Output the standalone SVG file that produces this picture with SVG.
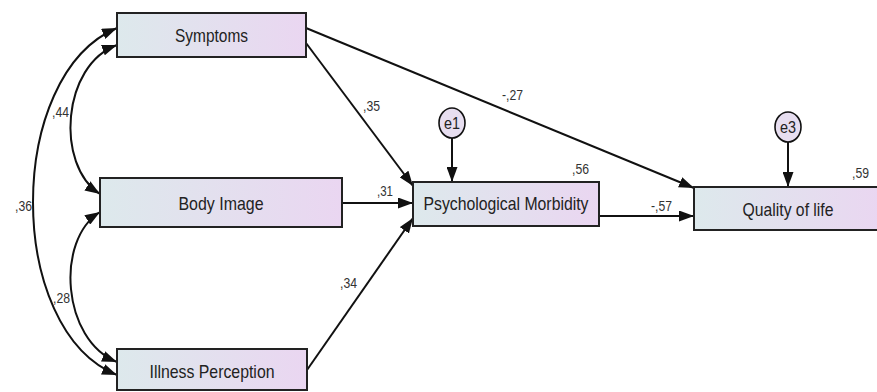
<svg xmlns="http://www.w3.org/2000/svg" width="877" height="392" viewBox="0 0 877 392">
<defs>
<linearGradient id="boxg" x1="0" y1="0" x2="1" y2="0">
<stop offset="0" stop-color="#dde9ec"/>
<stop offset="1" stop-color="#ead6f1"/>
</linearGradient>
<marker id="ah" markerUnits="userSpaceOnUse" markerWidth="15" markerHeight="11" refX="15" refY="5.5" orient="auto-start-reverse" viewBox="0 0 15 11">
<path d="M0,0 L15,5.5 L0,11 z" fill="#111"/>
</marker>
<style>
.box{fill:url(#boxg);stroke:#222;stroke-width:2}
.err{fill:#e7def0;stroke:#111;stroke-width:1.6}
.lbl{font-family:"Liberation Sans",Arial,sans-serif;font-size:18.5px;fill:#222}
.num{font-family:"Liberation Sans",Arial,sans-serif;font-size:14px;fill:#333}
.ln{fill:none;stroke:#111;stroke-width:2}
.a{marker-end:url(#ah)}
.b{marker-start:url(#ah);marker-end:url(#ah)}
</style>
</defs>
<rect width="877" height="392" fill="#fff"/>
<g id="connectors">
<path class="ln b" d="M117,28 C5,75 5,330 117,375"/>
<path class="ln b" d="M117,45 C62,65 55,165 100,194"/>
<path class="ln b" d="M100,212 C55,240 62,340 117,362"/>
<path class="ln a" d="M306,28 L694,188"/>
<path class="ln a" d="M306,43 L413,186"/>
<path class="ln a" d="M342,203 L413,203"/>
<path class="ln a" d="M307,370 L413,218"/>
<path class="ln a" d="M599,216 L694,216"/>
<path class="ln a" d="M452,138 L452,182"/>
<path class="ln a" d="M788,142 L788,187"/>
</g>
<g id="symptoms">
<rect class="box" x="117" y="13" width="189" height="44"/>
<text class="lbl" x="211.5" y="42" text-anchor="middle" textLength="73" lengthAdjust="spacingAndGlyphs">Symptoms</text>
</g>
<g id="body-image">
<rect class="box" x="100" y="178" width="242" height="49"/>
<text class="lbl" x="221" y="210" text-anchor="middle" textLength="85" lengthAdjust="spacingAndGlyphs">Body Image</text>
</g>
<g id="illness-perception">
<rect class="box" x="117" y="349" width="190" height="41"/>
<text class="lbl" x="212" y="378" text-anchor="middle" textLength="125" lengthAdjust="spacingAndGlyphs">Illness Perception</text>
</g>
<g id="psychological-morbidity">
<rect class="box" x="413" y="182" width="186" height="44"/>
<text class="lbl" x="506" y="210" text-anchor="middle" textLength="165" lengthAdjust="spacingAndGlyphs">Psychological Morbidity</text>
</g>
<g id="quality-of-life">
<rect class="box" x="694" y="187" width="190" height="43"/>
<text class="lbl" x="788" y="216" text-anchor="middle" textLength="91" lengthAdjust="spacingAndGlyphs">Quality of life</text>
</g>
<g id="e1">
<ellipse class="err" cx="452" cy="123" rx="13" ry="15"/>
<text class="num" x="452" y="129" text-anchor="middle" textLength="16" lengthAdjust="spacingAndGlyphs" style="font-size:16px;fill:#222">e1</text>
</g>
<g id="e3">
<ellipse class="err" cx="788" cy="127" rx="13" ry="15"/>
<text class="num" x="788" y="133" text-anchor="middle" textLength="16" lengthAdjust="spacingAndGlyphs" style="font-size:16px;fill:#222">e3</text>
</g>
<g id="labels">
<text class="num" x="363" y="111" textLength="17" lengthAdjust="spacingAndGlyphs">,35</text>
<text class="num" x="502" y="100" textLength="21" lengthAdjust="spacingAndGlyphs">-,27</text>
<text class="num" x="377" y="196" textLength="16" lengthAdjust="spacingAndGlyphs">,31</text>
<text class="num" x="340" y="288" textLength="17" lengthAdjust="spacingAndGlyphs">,34</text>
<text class="num" x="572" y="174" textLength="17" lengthAdjust="spacingAndGlyphs">,56</text>
<text class="num" x="651" y="211" textLength="21" lengthAdjust="spacingAndGlyphs">-,57</text>
<text class="num" x="852" y="178" textLength="17" lengthAdjust="spacingAndGlyphs">,59</text>
<text class="num" x="52" y="117" textLength="17" lengthAdjust="spacingAndGlyphs">,44</text>
<text class="num" x="15" y="211" textLength="17" lengthAdjust="spacingAndGlyphs">,36</text>
<text class="num" x="53" y="303" textLength="17" lengthAdjust="spacingAndGlyphs">,28</text>
</g>
</svg>
